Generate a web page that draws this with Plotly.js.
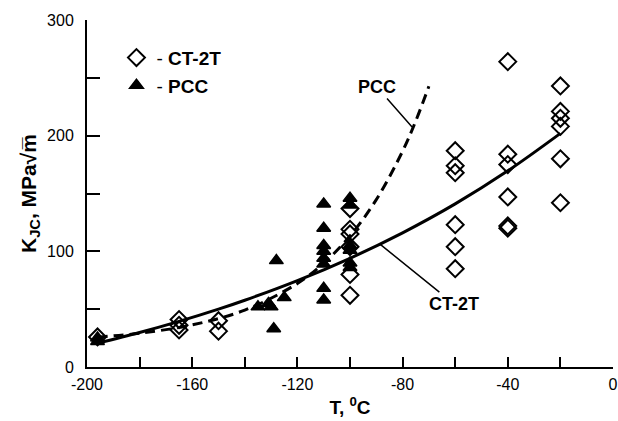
<!DOCTYPE html>
<html>
<head>
<meta charset="utf-8">
<script src="https://cdn.plot.ly/plotly-3.0.1.min.js"></script>
<style>html,body{margin:0;padding:0;background:#fff;}#chart{width:618px;height:421px;}</style>
</head>
<body>
<div id="chart"></div>
<script>
// CT-2T specimen data (open diamonds)
const ct2tT = [-196, -165, -165, -165, -150, -150,
  -100, -100, -100, -100, -100, -100,
  -60, -60, -60, -60, -60, -60,
  -40, -40, -40, -40, -40, -40,
  -20, -20, -20, -20, -20, -20];
const ct2tK = [26, 41, 36, 32, 40, 31,
  137, 119, 115, 104, 80, 62,
  187, 174, 168, 123, 104, 85,
  264, 184, 175, 147, 122, 120,
  243, 221, 215, 208, 180, 142];

// PCC specimen data (filled triangles)
const pccT = [-196, -196, -135, -131, -130, -128, -129, -125,
  -110, -110, -110, -110, -110, -110, -110, -110,
  -100, -100, -100, -100, -100, -100];
const pccK = [25, 22, 52, 55, 52, 92, 33, 60,
  141, 120, 105, 100, 94, 89, 68, 58,
  146, 140, 105, 101, 90, 86];

// Fitted curves
const ctCurveT = [-196, -180, -165, -150, -140, -120, -100, -80, -60, -40, -20];
const ctCurveK = [20.5, 29.8, 39.4, 50, 57.7, 74.7, 94, 116, 141, 169.6, 202];
const pccCurveT = [-196, -180, -160, -140, -120, -110, -100, -90, -80, -75, -70];
const pccCurveK = [25.8, 29.2, 36.4, 49.2, 72.2, 89.8, 113.3, 144.7, 186.6, 212.7, 242.7];

// Axis ticks
const xTickVals = [-200, -180, -160, -140, -120, -100, -80, -60, -40, -20, 0];
const xTickText = ['-200', '', '-160', '', '-120', '', '-80', '', '-40', '', '0'];
const yTickVals = [0, 50, 100, 150, 200, 250, 300];
const yTickText = ['0', '', '100', '', '200', '', '300'];

const FONT = 'Arial, "Liberation Sans", sans-serif';

const traces = [
  {x: pccT, y: pccK, type: 'scatter', mode: 'markers', name: '- <b>PCC</b>',
   marker: {symbol: 'triangle-up', size: 12, color: '#000', line: {color: '#000', width: 1.5}}},
  {x: ct2tT, y: ct2tK, type: 'scatter', mode: 'markers', name: '- <b>CT-2T</b>',
   marker: {symbol: 'diamond-open', size: 13, color: '#000', line: {color: '#000', width: 2}}},
  {x: ctCurveT, y: ctCurveK, type: 'scatter', mode: 'lines', showlegend: false,
   line: {color: '#000', width: 3, shape: 'spline'}},
  {x: pccCurveT, y: pccCurveK, type: 'scatter', mode: 'lines', showlegend: false,
   line: {color: '#000', width: 3, shape: 'spline', dash: '10px,6px'}}
];

const layout = {
  width: 618, height: 421,
  margin: {l: 87, r: 5, t: 20, b: 54},
  paper_bgcolor: '#fff', plot_bgcolor: '#fff',
  font: {family: FONT, color: '#000', size: 16},
  showlegend: true,
  legend: {x: 0.056, y: 0.946, xanchor: 'left', yanchor: 'top', traceorder: 'reversed',
    bgcolor: 'rgba(0,0,0,0)', font: {family: FONT, size: 19, color: '#000'}},
  xaxis: {range: [-200, 0], tickmode: 'array', tickvals: xTickVals, ticktext: xTickText,
    ticks: 'inside', ticklen: 10, tickwidth: 2, tickcolor: '#000',
    showline: true, linecolor: '#000', linewidth: 2, showgrid: false, zeroline: false,
    ticklabelstandoff: 2,
    tickfont: {family: FONT, size: 16, color: '#000'},
    title: {text: '<b>T, <sup>0</sup>C</b>', font: {family: FONT, size: 19, color: '#000'}, standoff: 8}},
  yaxis: {range: [0, 300], tickmode: 'array', tickvals: yTickVals, ticktext: yTickText,
    ticks: 'inside', ticklen: 13, tickwidth: 2, tickcolor: '#000',
    showline: true, linecolor: '#000', linewidth: 2, showgrid: false, zeroline: false,
    ticklabelstandoff: 8,
    tickfont: {family: FONT, size: 16, color: '#000'},
    title: {text: '<b>K<sub>JC</sub>, MPa\u221Am\u0305</b>', font: {family: FONT, size: 21, color: '#000'}, standoff: 5}},
  annotations: [
    {x: -76.4, y: 207.6, ax: -89.8, ay: 242, axref: 'x', ayref: 'y', xref: 'x', yref: 'y',
     text: '<b>PCC</b>', showarrow: true, arrowhead: 0, arrowwidth: 1.5, arrowcolor: '#000', standoff: 0,
     font: {family: FONT, size: 18, color: '#000'}},
    {x: -88.5, y: 106, ax: -60.6, ay: 54.8, axref: 'x', ayref: 'y', xref: 'x', yref: 'y',
     text: '<b>CT-2T</b>', showarrow: true, arrowhead: 0, arrowwidth: 1.5, arrowcolor: '#000', standoff: 0,
     font: {family: FONT, size: 18, color: '#000'}}
  ]
};

Plotly.newPlot('chart', traces, layout, {displayModeBar: false, staticPlot: true});
</script>
</body>
</html>
